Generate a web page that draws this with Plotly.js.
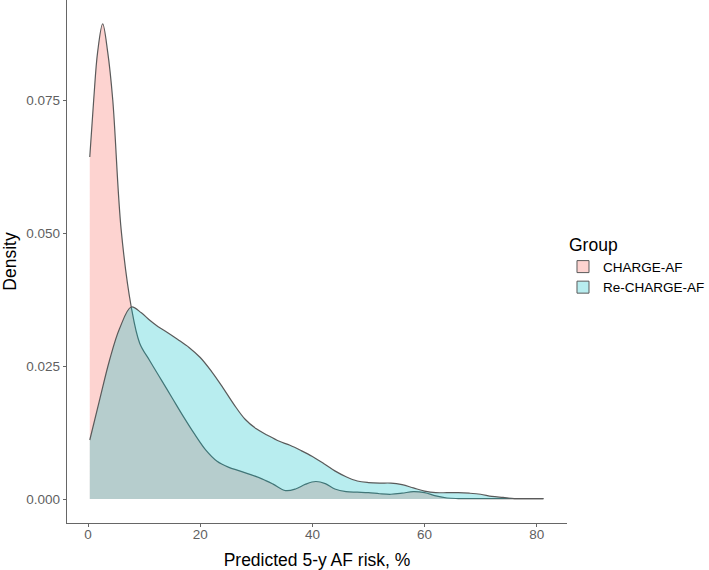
<!DOCTYPE html>
<html>
<head>
<meta charset="utf-8">
<script src="https://cdn.plot.ly/plotly-3.0.1.min.js"></script>
<style>html,body{margin:0;padding:0;background:#fff;}#chart{width:709px;height:570px;}</style>
</head>
<body>
<div id="chart"></div>
<script>
// Group names
const groups = ["CHARGE-AF", "Re-CHARGE-AF"];

// CHARGE-AF density curve
const chargeX = [0.3, 1.0, 1.7, 2.6, 3.5, 4.4, 5.9, 7.7, 9.2, 11.0, 13.0, 15.0, 17.0, 19.0, 21.0, 23.0, 25.0, 27.0, 29.0, 31.0, 33.0, 35.2, 37.0, 38.8, 40.6, 42.3, 44.0, 46.0, 48.0, 50.0, 52.0, 54.0, 56.0, 58.0, 60.0, 62.0, 64.0, 66.0, 70.0, 75.0, 81.2];
const chargeY = [0.0643, 0.0750, 0.0840, 0.0893, 0.0840, 0.0750, 0.0506, 0.0361, 0.0293, 0.0260, 0.0225, 0.0190, 0.0155, 0.0122, 0.0092, 0.0071, 0.0060, 0.0053, 0.0046, 0.0038, 0.0028, 0.0016, 0.0019, 0.0028, 0.0033, 0.0029, 0.0019, 0.0014, 0.0013, 0.0012, 0.0010, 0.0009, 0.0011, 0.0014, 0.0012, 0.0006, 0.0002, 0.0001, 0.0001, 0.0001, 0.0001];

// Re-CHARGE-AF density curve
const rechargeX = [0.3, 2.0, 3.8, 5.6, 7.7, 9.5, 11.0, 12.5, 14.0, 16.0, 18.0, 20.0, 22.0, 24.0, 26.0, 28.0, 30.0, 32.0, 34.0, 36.0, 38.0, 40.0, 42.0, 44.0, 46.0, 48.0, 50.0, 52.0, 54.0, 56.0, 58.0, 60.0, 62.0, 64.0, 66.0, 68.0, 70.0, 72.0, 74.0, 76.0, 78.0, 81.2];
const rechargeY = [0.0111, 0.0184, 0.0260, 0.0320, 0.0361, 0.0350, 0.0336, 0.0324, 0.0314, 0.0300, 0.0285, 0.0266, 0.0240, 0.0210, 0.0178, 0.0150, 0.0132, 0.0120, 0.0109, 0.0101, 0.0091, 0.0080, 0.0067, 0.0053, 0.0042, 0.0034, 0.0031, 0.0030, 0.0030, 0.0027, 0.0021, 0.0015, 0.0012, 0.0012, 0.0012, 0.0011, 0.0009, 0.0005, 0.0003, 0.0001, 0.0001, 0.0001];

// Axis ticks
const xTicks = [0, 20, 40, 60, 80];
const yTicks = [0, 0.025, 0.05, 0.075];
const yTickText = ["0.000", "0.025", "0.050", "0.075"];

const fills = ["rgba(248,118,109,0.32)", "rgba(0,191,196,0.28)"];
const lineCol = "#5a5a5a";

const traces = [
  {x: chargeX, y: chargeY, type: "scatter", mode: "lines", fill: "tozeroy",
   fillcolor: fills[0], line: {color: lineCol, width: 1.2, shape: "spline", smoothing: 1},
   name: groups[0], showlegend: false, hoverinfo: "x+y"},
  {x: rechargeX, y: rechargeY, type: "scatter", mode: "lines", fill: "tozeroy",
   fillcolor: fills[1], line: {color: lineCol, width: 1.2, shape: "spline", smoothing: 1},
   name: groups[1], showlegend: false, hoverinfo: "x+y"},
  // legend keys
  {x: [null], y: [null], type: "bar", name: groups[0], showlegend: true,
   marker: {color: fills[0], line: {color: lineCol, width: 1}}},
  {x: [null], y: [null], type: "bar", name: groups[1], showlegend: true,
   marker: {color: fills[1], line: {color: lineCol, width: 1}}}
];

const tickFont = {family: "Liberation Sans, Arial, sans-serif", size: 13.5, color: "#5f5f5f"};
const titleFont = {family: "Liberation Sans, Arial, sans-serif", size: 17.5, color: "#000"};

const layout = {
  width: 709, height: 570,
  margin: {l: 67, r: 142, t: 0, b: 47, pad: 0},
  paper_bgcolor: "#fff", plot_bgcolor: "#fff",
  xaxis: {
    range: [-3.76, 85.4], tickvals: xTicks, ticks: "outside", ticklen: 3, tickwidth: 1,
    tickcolor: "#666", showline: true, linecolor: "#666", linewidth: 1.2,
    showgrid: false, zeroline: false, tickfont: tickFont, automargin: false,
    ticklabelstandoff: -4,
    title: {text: "Predicted 5-y AF risk, %", font: titleFont, standoff: 12}
  },
  yaxis: {
    range: [-0.0045, 0.0938], tickvals: yTicks, ticktext: yTickText, ticks: "outside",
    ticklen: 3, tickwidth: 1, tickcolor: "#666", showline: true, linecolor: "#666",
    linewidth: 1.2, showgrid: false, zeroline: false, tickfont: tickFont, automargin: false,
    title: {text: "Density", font: titleFont, standoff: 11}
  },
  legend: {
    xref: "container", yref: "container",
    x: 0.7997, xanchor: "left", y: 0.599, yanchor: "top",
    font: {family: "Liberation Sans, Arial, sans-serif", size: 13.5, color: "#000"},
    title: {text: "Group", font: titleFont},
    bgcolor: "rgba(0,0,0,0)", itemwidth: 30, tracegroupgap: 0, indentation: -4
  },
  barmode: "overlay",
  showlegend: true
};

Plotly.newPlot("chart", traces, layout, {displayModeBar: false, staticPlot: true});
</script>
</body>
</html>
